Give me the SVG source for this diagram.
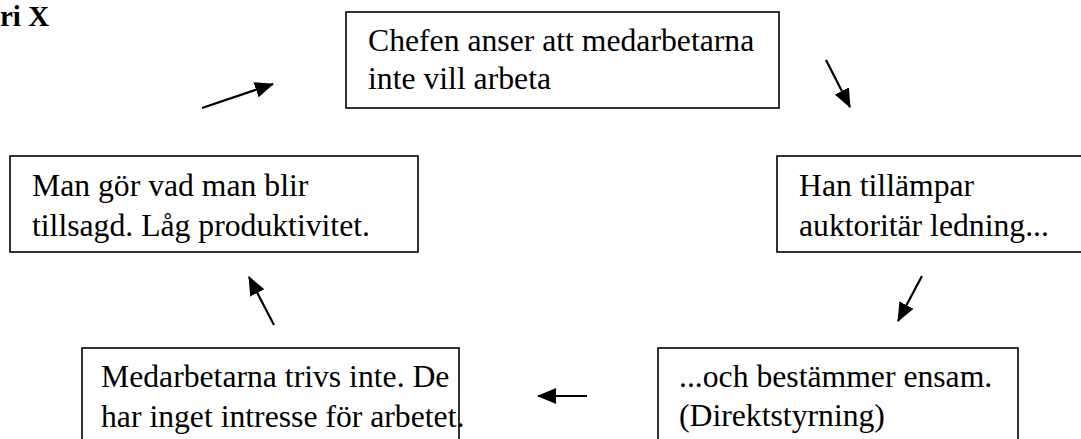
<svg xmlns="http://www.w3.org/2000/svg" width="1081" height="439" viewBox="0 0 1081 439">
<style>
.box{fill:#fff;stroke:#000;stroke-width:1.6}
.t{font-family:"Liberation Serif","Times New Roman",serif;font-size:31.7px;fill:#000}
.title{font-family:"Liberation Serif","Times New Roman",serif;font-size:29px;font-weight:bold;fill:#000}
.arr{stroke:#000;stroke-width:2.2;fill:none;marker-end:url(#ah)}
</style>
<defs>
<marker id="ah" markerUnits="userSpaceOnUse" markerWidth="20" markerHeight="16" refX="18" refY="8" orient="auto" viewBox="0 0 20 16">
<path d="M0,0 L19,8 L0,16 Z" fill="#000"/>
</marker>
</defs>
<rect width="1081" height="439" fill="#fff"/>
<text class="title" x="0" y="26">ri X</text>
<g id="node-top">
<rect class="box" x="346" y="12" width="433" height="96"/>
<text class="t" x="368" y="51">Chefen anser att medarbetarna</text>
<text class="t" x="368" y="89">inte vill arbeta</text>
</g>
<g id="node-right">
<rect class="box" x="777" y="156" width="310" height="96"/>
<text class="t" x="799" y="196">Han tillämpar</text>
<text class="t" x="799" y="236">auktoritär ledning...</text>
</g>
<g id="node-bottom-right">
<rect class="box" x="658" y="348" width="360" height="120"/>
<text class="t" x="679" y="387">...och bestämmer ensam.</text>
<text class="t" x="679" y="426">(Direktstyrning)</text>
</g>
<g id="node-bottom-left">
<rect class="box" x="82" y="348" width="377" height="120"/>
<text class="t" x="101" y="387">Medarbetarna trivs inte. De</text>
<text class="t" x="101" y="427">har inget intresse för arbetet.</text>
</g>
<g id="node-left">
<rect class="box" x="10" y="156" width="408" height="96"/>
<text class="t" x="32" y="196">Man gör vad man blir</text>
<text class="t" x="32" y="236">tillsagd. Låg produktivitet.</text>
</g>
<g id="connectors">
<line class="arr" x1="202" y1="108" x2="273" y2="84"/>
<line class="arr" x1="826" y1="60" x2="850" y2="107"/>
<line class="arr" x1="922" y1="276" x2="898" y2="321"/>
<line class="arr" x1="587" y1="396" x2="538" y2="396"/>
<line class="arr" x1="274" y1="325" x2="249" y2="277"/>
</g>
</svg>
